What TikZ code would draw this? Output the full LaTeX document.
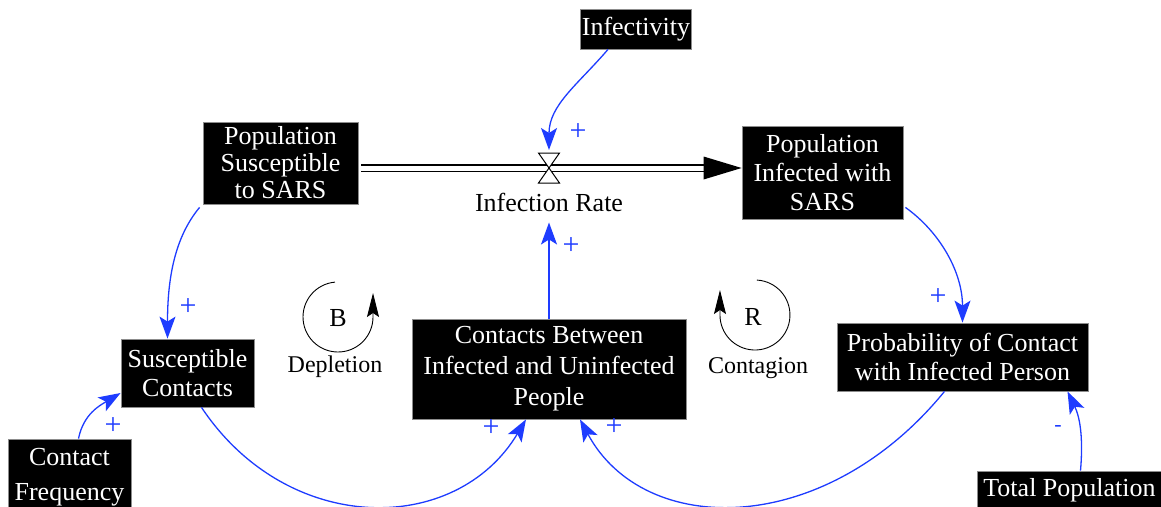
\documentclass[tikz,border=0pt]{standalone}
\usepackage{fontspec}
\setmainfont{Liberation Serif}
\newfontfamily\diagfont{Liberation Serif}
\usetikzlibrary{arrows.meta}
\definecolor{linkblue}{RGB}{30,60,255}
\begin{document}
\begin{tikzpicture}[x=1pt,y=-1pt,
  var/.style={fill=black, draw=black!45, line width=0.8pt, text=white, align=center,
    inner sep=0pt, font=\diagfont\fontsize{26}{29}\selectfont},
  link/.style={draw=linkblue, line width=1.3pt, -{Stealth[length=22pt,width=16pt,inset=5pt]}},
  pol/.style={text=linkblue, font=\diagfont\fontsize{30}{30}\selectfont, inner sep=0pt},
  loopline/.style={draw=black, line width=0.9pt, -{Stealth[length=24pt,width=12pt,inset=4pt]}},
  looplabel/.style={font=\diagfont\fontsize{24}{24}\selectfont, inner sep=0pt},
  pipe/.style={draw=black, line width=1.3pt, double=white, double distance=5pt},
]
\useasboundingbox (0,0) rectangle (1161,506);
\clip (0,0) rectangle (1161,506);

% stocks and auxiliaries
\node[var, minimum width=111pt, minimum height=40pt] (inf) at (636,29) {Infectivity};
\node[var, minimum width=155pt, minimum height=82pt, font=\diagfont\fontsize{26}{27}\selectfont] (ps) at (280.5,163) {Population\\Susceptible\\to SARS};
\node[var, minimum width=161pt, minimum height=93pt] (pi) at (822.5,172.5) {Population\\Infected with\\SARS};
\node[var, minimum width=274pt, minimum height=100pt, font=\diagfont\fontsize{26}{31}\selectfont] (cb) at (549,369) {Contacts Between\\Infected and Uninfected\\People};
\node[var, minimum width=133pt, minimum height=68pt] (sc) at (187.5,373) {Susceptible\\Contacts};
\node[var, minimum width=251pt, minimum height=68pt] (prob) at (962.5,357) {Probability of Contact\\with Infected Person};
\node[var, minimum width=123pt, minimum height=76pt, font=\diagfont\fontsize{26}{35}\selectfont] (cf) at (69.5,477) {Contact\\Frequency};
\node[var, minimum width=185pt, minimum height=38pt] (tp) at (1069.5,490) {Total Population};

% flow pipe with valve
\coordinate (valve) at (549,168);
\draw[pipe] ([xshift=3pt]ps.east |- valve) -- ([xshift=-36pt]pi.west |- valve);
\coordinate (pipeend) at (pi.west |- valve);
\fill (pipeend) -- ++(-38,-11.5) -- ++(0,23) -- cycle;
\filldraw[fill=white, draw=black, line width=1pt]
  ([shift={(-10.5,-15)}]valve) -- ++(21,0) -- ++(-21,30) -- ++(21,0) -- cycle;
\node[font=\diagfont\fontsize{26}{26}\selectfont, inner sep=0pt] (rate) at (549,202) {Infection Rate};

% causal links
\draw[link] ([xshift=-28pt]inf.south) .. controls +(-30,35) and +(0,-45) .. ([yshift=18pt]valve);
\draw[link] (cb.north) -- ([yshift=-11pt]rate.south);
\draw[link] ([xshift=-3pt,yshift=-3pt]ps.south west) .. controls +(-25,30) and +(0,-60) .. ([xshift=-20pt]sc.north);
\draw[link] ([xshift=2pt,yshift=12pt]pi.south east) .. controls +(35,25) and +(0,-50) .. (prob.north);
\draw[link] ([xshift=9pt]cf.north) .. controls +(5,-25) and +(-20,12) .. ([yshift=-20pt]sc.west);
\draw[link] ([xshift=14pt]sc.south) .. controls +(86,129) and +(-70,117) .. ([xshift=-23pt]cb.south);
\draw[link] ([xshift=-18pt]prob.south) .. controls +(-120,147) and +(64,119) .. ([xshift=31pt]cb.south);
\draw[link] ([xshift=11pt]tp.north) .. controls +(3,-35) and +(12,25) .. ([xshift=105pt]prob.south);

% link polarities
\node[pol] (p1) at (578,132) {+};
\node[pol] (p2) at (571,246) {+};
\node[pol] (p3) at (188,307) {+};
\node[pol] (p4) at (938,297) {+};
\node[pol] (p5) at (113,426) {+};
\node[pol] (p6) at (491,428) {+};
\node[pol] (p7) at (614,427) {+};
\node[pol, font=\diagfont\fontsize{22}{22}\selectfont] (p8) at (1058,428) {-};

% loop markers
\draw[loopline] (334.95,282.13) arc[start angle=-95, end angle=-360, radius=35] -- ++(0,-24);
\node[font=\diagfont\fontsize{26}{26}\selectfont, inner sep=0pt] (lb) at (338,318) {B};
\node[looplabel] (lbn) at (335,367) {Depletion};
\draw[loopline] (756.8,280.05) arc[start angle=-87, end angle=180, radius=35] -- ++(0,-25);
\node[font=\diagfont\fontsize{26}{26}\selectfont, inner sep=0pt] (lr) at (753,317) {R};
\node[looplabel] (lrn) at (758,368) {Contagion};
\end{tikzpicture}
\end{document}
